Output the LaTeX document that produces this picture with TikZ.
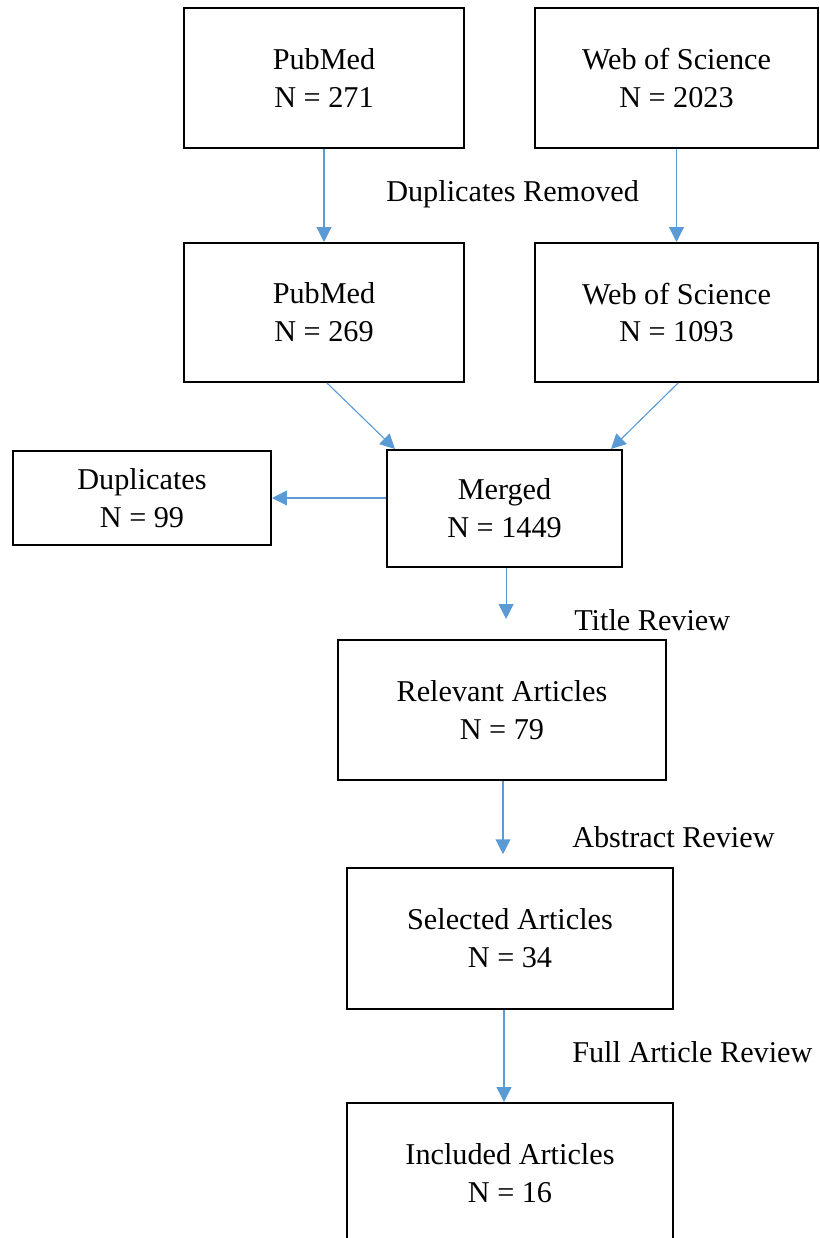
\documentclass[tikz,border=0pt]{standalone}
\usepackage{fontspec}
\setmainfont{Liberation Serif}
\usetikzlibrary{arrows.meta}
\definecolor{arrowblue}{RGB}{91,155,213}

\begin{document}
\begin{tikzpicture}[x=0.025cm, y=-0.025cm,
    box/.style={draw, line width=1.4pt, align=center, inner sep=0pt, font=\fontsize{21.5}{27}\selectfont},
    flow/.style={color=arrowblue, line width=0.8pt, -{Triangle[width=10.5pt,length=10.5pt]}},
    steplabel/.style={anchor=base west, inner sep=0pt, font=\fontsize{21.5}{27}\selectfont}]
        \useasboundingbox (0,0) rectangle (820,1238);

        % Define boxes
        \node[box, minimum width=7cm, minimum height=3.5cm] (pm1) at (324,78) {PubMed\\N = 271};
        \node[box, minimum width=7.05cm, minimum height=3.5cm] (wos1) at (676.5,78) {Web of Science\\N = 2023};
        \node[box, minimum width=7cm, minimum height=3.475cm] (pm2) at (324,312.5) {PubMed\\N = 269};
        \node[box, minimum width=7.05cm, minimum height=3.475cm] (wos2) at (676.5,312.5) {Web of Science\\N = 1093};
        \node[box, minimum width=6.45cm, minimum height=2.35cm] (dup) at (142,498) {Duplicates\\N = 99};
        \node[box, minimum width=5.875cm, minimum height=2.925cm] (merged) at (504.5,508.5) {Merged\\N = 1449};
        \node[box, minimum width=8.2cm, minimum height=3.5cm] (relevant) at (502,710) {Relevant Articles\\N = 79};
        \node[box, minimum width=8.15cm, minimum height=3.525cm] (selected) at (510,938.5) {Selected Articles\\N = 34};
        \node[box, minimum width=8.15cm, minimum height=3.525cm] (included) at (510,1173.5) {Included Articles\\N = 16};

        % Add step labels
        \node[steplabel] (lblDup) at (386,201) {Duplicates Removed};
        \node[steplabel] (lblTitle) at (574,630) {Title Review};
        \node[steplabel] (lblAbstract) at (572,847) {Abstract Review};
        \node[steplabel] (lblFull) at (572,1062) {Full Article Review};

        % Draw arrows
        \draw[flow] (pm1) -- (pm2);
        \draw[flow] (wos1) -- (wos2);
        \draw[flow] ([xshift=0.075cm]pm2.south) -- ([xshift=0.225cm]merged.north west);
        \draw[flow] ([xshift=0.04cm]wos2.south) -- ([xshift=-0.3cm]merged.north east);
        \draw[flow] (merged.west |- dup.east) -- (dup.east);
        \draw[flow, shorten >=0.5cm] ([xshift=0.04cm]merged.south) -- ([xshift=0.04cm]merged.south |- relevant.north);
        \draw[flow, shorten >=0.32cm] ([xshift=0.025cm]relevant.south) -- ([xshift=0.025cm]relevant.south |- selected.north);
        \draw[flow] ([xshift=-0.15cm]selected.south) -- ([xshift=-0.15cm]selected.south |- included.north);
    \end{tikzpicture}
\end{document}
